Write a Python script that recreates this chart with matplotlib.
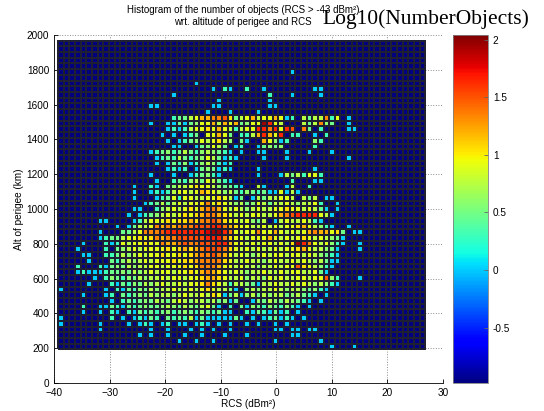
import numpy as np
import matplotlib.pyplot as plt

# bin edges
rcs_min, rcs_max, n_rcs = -39.27, 26.8, 65
alt_min, alt_max, n_alt = 193.0, 1968.0, 54

# one character per cell -> log10(number of objects); '.' = empty
level_chars = "0123456789ABCD"
level_values = [0.0, 0.3, 0.48, 0.6, 0.75, 0.9, 1.05, 1.2, 1.35, 1.5, 1.65, 1.8, 1.95, 2.04]
empty_value = -0.98
cmin, cmax = -0.98, 2.04

# rows from top (highest altitude bin) to bottom, "startcol:cells"
rows_top_down = [
    "", "", "", "", "",
    "41:0",
    "",
    "24:0",
    "27:0.10..1..0 45:00",
    "20:0 37:1...0....0",
    "28:0 37:0",
    "16:00 27:00 37:00",
    "26:0 30:0 35:0",
    "20:1224577889624574557501.4244815.0",
    "16:0 19:0020235574757235 35:5CA54 43:424832 51:0",
    "19:0101455657541455AA8A5A9 43:82 46:1 51:00",
    "18:0 20:0 22:012 26:55752 32:1147A75A 41:11 45:0 47:1",
    "19:0 21:0123545643 32:20 36:75301 45:31",
    "20:00 24:023542 31:01 35:02323 45:1",
    "16:012312421343210 32:0 35:00 40:0 44:0 48:0",
    "17:012142123542010 36:0 40:0 51:0",
    "17:0 19:021301343101",
    "19:0101 24:0232010 35:0 45:0",
    "16:0 20:0 23:012310 35:0 39:04241551",
    "17:0 20:12134254210 41:1 45:00",
    "13:0 16:10 19:23445655432210 35:40 40:04 44:1",
    "13:0 16:0101455457 26:6543421321 36:2005040",
    "13:0 17:0125155445565402 33:.0 35:4244554 42:.424.00",
    "15:0124245455 25:6856543423 35:5424454344 45:51..0",
    "13:00 17:1345456578 27:8754543454 37:4556554542 47:0.0",
    "12:0.01234545 22:6567887654 32:5455445789 42:AAAA540",
    "7:00 13:0145556566 23:7688986554 33:5324.04544 43:5410",
    "10:0.02445878 20:7888999AA8 30:7655445454 40:556754310. 50:.0",
    "7:0 11:22458889AA 21:AAAAABCCA8 31:5455855754 41:5457877562 51:.00",
    "7:0122455656 17:878899999A 27:AA86554555 37:7545456545 47:4320",
    "4:0 8:1015455655 18:8778988999 28:AA75545455 38:4546CA8545 48:310..0",
    "3:0 8:1.23454555 18:5656767899 28:9865454544 38:5455675443 48:20...0",
    "4:00 8:1124345455 18:6556567889 28:8754543454 38:5545545432 48:10",
    "5:0 9:2134345455 19:5656678888 29:6544544345 39:44545434200",
    "3:1 7:1023243445 17:5455565688 27:8755454434 37:454559654310",
    "3:0100012232 13:4345455455 23:6578765454 33:3445445455 43:44520",
    "6:0.13213243 16:4454554556 26:7765445344 36:3545445545 46:5931...0",
    "5:0 9:1021324345 19:4454556865 29:4144320445 39:44545434310",
    "0:0 8:0 10:1021324344 20:5445456544 30:30.3434454 40:34432310",
    "4:0 8:01.2123243 18:4434544546 28:5024034243 38:44234210.0",
    "9:0.12123243 19:2454344342 29:302..03243 39:243210.0",
    "4:1 7:0021021232 17:2343243245 27:20.1.20321 37:321310.0",
    "4:0 7:0 9:10.1021212 19:3123213212 29:00..10210201.0",
    "0:0 9:1.0.01021. 19:2121402000 29:0020.0.012 39:010.0",
    "0:0 7:0 12:0.010.01.00.010.0.0..0.0..0.0",
    "7:0 16:0 19:0 23:0 25:0 27:0 30:0 38:00 41:00 44:00",
    "14:0 16:0 19:0 22:0 25:0 29:0 33:0 41:00",
    "21:0 24:0 27:0 38:0 46:0",
    "48:0 52:0",
]

grid = np.full((n_alt, n_rcs), empty_value)
for i, row in enumerate(rows_top_down):
    r = n_alt - 1 - i
    for seg in row.split():
        start, cells = seg.split(":")
        for k, ch in enumerate(cells):
            c = int(start) + k
            if ch != "." and c < n_rcs:
                grid[r, c] = level_values[level_chars.index(ch)]

x_edges = np.linspace(rcs_min, rcs_max, n_rcs + 1)
y_edges = np.linspace(alt_min, alt_max, n_alt + 1)

plt.rcParams['font.family'] = ['Liberation Sans', 'DejaVu Sans']
fig = plt.figure(figsize=(5.44, 4.11), dpi=100)
ax = fig.add_axes([0.0993, 0.0681, 0.715, 0.8467])
mesh = ax.pcolormesh(x_edges, y_edges, grid, cmap='jet', vmin=cmin, vmax=cmax,
                     edgecolors=(0.12, 0.12, 0.2), linewidth=0.35)
ax.set_xlim(-40, 30)
ax.set_ylim(0, 2000)
ax.set_xticks(np.arange(-40, 31, 10))
ax.set_yticks(np.arange(0, 2001, 200))
ax.set_axisbelow(True)
ax.grid(True, linestyle=':', color='0.55', linewidth=0.7)
ax.tick_params(direction='in', length=3, labelsize=7.2, width=0.6)
for side in ['top', 'right']:
    ax.spines[side].set_visible(False)
for side in ['left', 'bottom']:
    ax.spines[side].set_linewidth(0.6)
ax.set_xlabel("RCS (dBm²)", fontsize=7.2, labelpad=1)
ax.set_ylabel("Alt of perigee (km)", fontsize=7.2, labelpad=2)

fig.text(0.447, 0.975, "Histogram of the number of objects (RCS > -43 dBm²)",
         ha='center', va='center', fontsize=7)
fig.text(0.447, 0.946, "wrt. altitude of perigee and RCS",
         ha='center', va='center', fontsize=7)

cax = fig.add_axes([0.8327, 0.0681, 0.0643, 0.8467])
cb = fig.colorbar(mesh, cax=cax)
cb.set_ticks([-0.5, 0, 0.5, 1, 1.5, 2])
cb.ax.set_yticklabels(['-0.5', '0', '0.5', '1', '1.5', '2'])
cb.ax.tick_params(direction='in', length=3, labelsize=7.2, width=0.6, colors='0.4',
                  labelcolor='black')
cb.outline.set_linewidth(0.6)
cb.outline.set_edgecolor('0.5')
fig.text(0.783, 0.953, "Log10(NumberObjects)", ha='center', va='center',
         fontsize=15.5, family=['Liberation Serif', 'DejaVu Serif'])

fig.savefig("out.png", dpi=100)
